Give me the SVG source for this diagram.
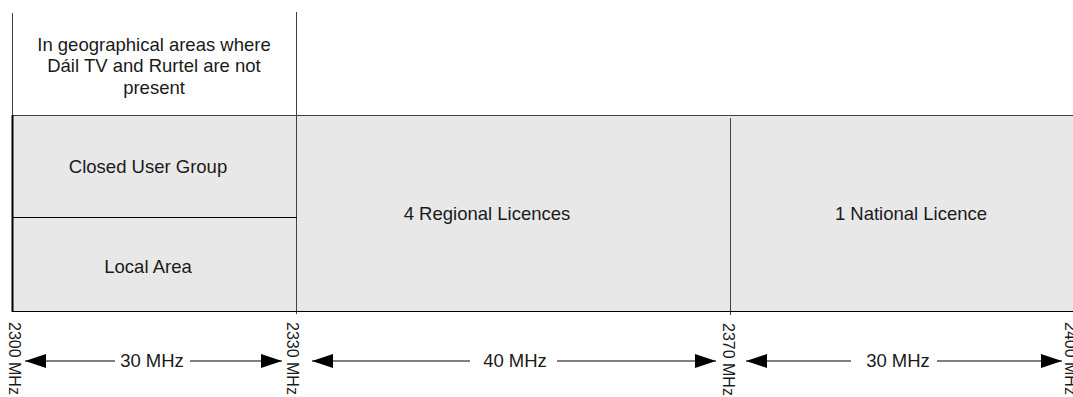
<svg xmlns="http://www.w3.org/2000/svg" width="1073" height="397" viewBox="0 0 1073 397">
<style>
.t{font-family:"Liberation Sans",Arial,sans-serif;font-size:18.5px;fill:#1a1a1a;text-anchor:middle}
.v{font-family:"Liberation Sans",Arial,sans-serif;font-size:16px;fill:#1a1a1a}
.ln{stroke:#404040;stroke-width:1;fill:none}
.ar{stroke:#000;stroke-width:1;fill:none}
</style>
<defs>
<marker id="ah" viewBox="0 0 21 14" refX="21" refY="7" markerWidth="21" markerHeight="14" markerUnits="userSpaceOnUse" orient="auto-start-reverse">
<path d="M0,0 L21,7 L0,14 Z" fill="#000"/>
</marker>
</defs>
<rect width="1073" height="397" fill="#fff"/>
<g id="band">
<rect x="12" y="115" width="1065" height="196" fill="#e8e8e8"/>
</g>
<g id="lines">
<line class="ln" x1="12.5" y1="13" x2="12.5" y2="115"/>
<line class="ln" x1="12" y1="115.5" x2="1073" y2="115.5"/>
<line x1="12.5" y1="115" x2="12.5" y2="312" stroke="#000" stroke-width="2"/>
<line class="ln" x1="296.5" y1="12" x2="296.5" y2="314"/>
<line x1="12" y1="217.5" x2="297" y2="217.5" stroke="#000" stroke-width="1"/>
<line class="ln" x1="730.5" y1="118" x2="730.5" y2="315"/>
<line x1="12" y1="311.5" x2="1073" y2="311.5" stroke="#000" stroke-width="1.2"/>
</g>
<g id="node-geo">
<text class="t" x="154" y="51">In geographical areas where</text>
<text class="t" x="154" y="72">Dáil TV and Rurtel are not</text>
<text class="t" x="154" y="94">present</text>
</g>
<g id="node-cug"><text class="t" x="148" y="173">Closed User Group</text></g>
<g id="node-local"><text class="t" x="148" y="273">Local Area</text></g>
<g id="node-regional"><text class="t" x="487" y="220">4 Regional Licences</text></g>
<g id="node-national"><text class="t" x="911" y="220">1 National Licence</text></g>
<g id="freq-labels">
<text class="v" transform="translate(9,322) rotate(90)">2300 MHz</text>
<text class="v" transform="translate(287,322) rotate(90)">2330 MHz</text>
<text class="v" transform="translate(723,323) rotate(90)">2370 MHz</text>
<text class="v" transform="translate(1065,322) rotate(90)">2400 MHz</text>
</g>
<g id="connectors">
<line class="ar" x1="115" y1="361" x2="25" y2="361" marker-end="url(#ah)"/>
<line class="ar" x1="190" y1="361" x2="282" y2="361" marker-end="url(#ah)"/>
<line class="ar" x1="470" y1="361" x2="312" y2="361" marker-end="url(#ah)"/>
<line class="ar" x1="557" y1="361" x2="716" y2="361" marker-end="url(#ah)"/>
<line class="ar" x1="851" y1="361" x2="746" y2="361" marker-end="url(#ah)"/>
<line class="ar" x1="937" y1="361" x2="1062" y2="361" marker-end="url(#ah)"/>
<text class="t" x="152" y="367">30 MHz</text>
<text class="t" x="515" y="367">40 MHz</text>
<text class="t" x="898" y="367">30 MHz</text>
</g>
</svg>
